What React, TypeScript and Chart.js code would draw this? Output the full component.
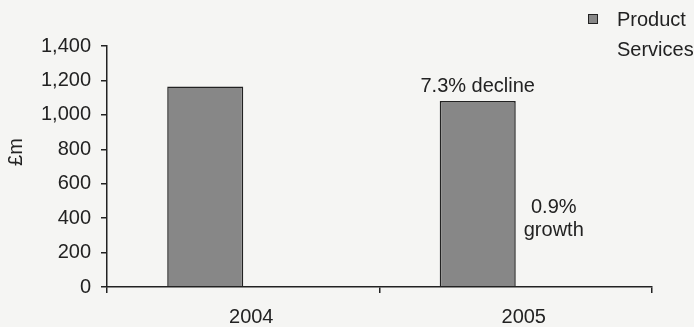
import React, { useEffect, useRef } from 'react';
import { Chart, registerables } from 'chart.js';

Chart.register(...registerables);

// Revenue by year, £m
const years = ['2004', '2005'];
const productRevenue = [1165, 1080];
const servicesRevenue = [240, 242];
const seriesNames = ['Product', 'Services'];

// Notes printed above the bars (one entry per year, each a list of lines)
const productNotes: string[][] = [[], ['7.3% decline']];
const servicesNotes: string[][] = [[], ['0.9%', 'growth']];

const yTickValues = [0, 200, 400, 600, 800, 1000, 1200, 1400];
const yAxisTitle = '£m';

const PAPER = '#f5f5f3';
const INK = '#222222';
const PRODUCT_FILL = '#878787';
const SERVICES_FILL = PAPER; // services bars are printed in the paper colour
const FONT = '"Liberation Sans", Arial, Helvetica, sans-serif';
const FONT_SIZE = 20;

const notesPlugin = {
  id: 'barNotes',
  afterDatasetsDraw(chart: any) {
    const ctx = chart.ctx as CanvasRenderingContext2D;
    ctx.save();
    ctx.font = `${FONT_SIZE}px ${FONT}`;
    ctx.fillStyle = INK;
    ctx.textAlign = 'center';
    ctx.textBaseline = 'alphabetic';
    [productNotes, servicesNotes].forEach((notes, di) => {
      const meta = chart.getDatasetMeta(di);
      meta.data.forEach((bar: any, i: number) => {
        const lines = notes[i] || [];
        lines.forEach((line, li) => {
          const y = bar.y - 9 - (lines.length - 1 - li) * 23;
          ctx.fillText(line, bar.x, y);
        });
      });
    });

    // rotated value-axis title, a little above the middle of the axis
    const area = chart.chartArea;
    ctx.translate(16, area.top + (area.bottom - area.top) * 0.44);
    ctx.rotate(-Math.PI / 2);
    ctx.textBaseline = 'middle';
    ctx.fillText(yAxisTitle, 0, 0);
    ctx.restore();
  },
};

export default function App() {
  const canvasRef = useRef<HTMLCanvasElement | null>(null);

  useEffect(() => {
    if (!canvasRef.current) return;
    const chart = new Chart(canvasRef.current, {
      type: 'bar',
      data: {
        labels: years,
        datasets: [
          {
            label: seriesNames[0],
            data: productRevenue,
            backgroundColor: PRODUCT_FILL,
            borderColor: INK,
            borderWidth: 1.5,
            borderSkipped: 'bottom',
            categoryPercentage: 0.558,
            barPercentage: 1,
          },
          {
            label: seriesNames[1],
            data: servicesRevenue,
            backgroundColor: SERVICES_FILL,
            borderWidth: 0,
            categoryPercentage: 0.558,
            barPercentage: 1,
          },
        ],
      },
      options: {
        animation: false,
        responsive: false,
        layout: { padding: { top: 46, right: 42, left: 0, bottom: 0 } },
        plugins: {
          legend: { display: false },
          tooltip: { enabled: false },
        },
        scales: {
          x: {
            grid: {
              display: true,
              drawOnChartArea: false,
              offset: true,
              tickLength: 6,
              color: INK,
              lineWidth: 1.5,
              z: 1,
            },
            border: { display: true, color: INK, width: 1.5, z: 1 },
            ticks: {
              color: INK,
              font: { family: FONT, size: FONT_SIZE },
              padding: 12,
              labelOffset: 8,
            },
            afterFit: (s: any) => {
              s.height = 40;
            },
          },
          y: {
            min: 0,
            max: 1400,
            afterBuildTicks: (s: any) => {
              s.ticks = yTickValues.map((v) => ({ value: v }));
            },
            grid: {
              display: true,
              drawOnChartArea: false,
              tickLength: 6,
              color: INK,
              lineWidth: 1.5,
              z: 1,
            },
            border: { display: true, color: INK, width: 1.5, z: 1 },
            ticks: {
              color: INK,
              font: { family: FONT, size: FONT_SIZE },
              padding: 10,
              callback: (v: any) => Number(v).toLocaleString('en-US'),
            },
            afterFit: (s: any) => {
              s.width = 107;
            },
          },
        },
      },
      plugins: [notesPlugin],
    });
    return () => chart.destroy();
  }, []);

  const swatchColors = [PRODUCT_FILL, SERVICES_FILL];

  return (
    <div
      style={{
        position: 'fixed',
        left: 0,
        top: 0,
        width: 694,
        height: 327,
        background: PAPER,
        overflow: 'hidden',
      }}
    >
      <canvas
        ref={canvasRef}
        width={694}
        height={327}
        style={{ position: 'absolute', left: 0, top: 0, display: 'block' }}
      />
      <div
        style={{
          position: 'absolute',
          left: 588,
          top: 4,
          fontFamily: FONT,
          fontSize: FONT_SIZE,
          color: INK,
          whiteSpace: 'nowrap',
        }}
      >
        {seriesNames.map((name, i) => (
          <div key={name} style={{ display: 'flex', alignItems: 'center', height: 30 }}>
            <span
              style={{
                display: 'inline-block',
                width: 10,
                height: 10,
                marginRight: 19,
                background: swatchColors[i],
                border: i === 0 ? `1px solid ${INK}` : 'none',
                boxSizing: 'border-box',
              }}
            />
            <span>{name}</span>
          </div>
        ))}
      </div>
    </div>
  );
}
